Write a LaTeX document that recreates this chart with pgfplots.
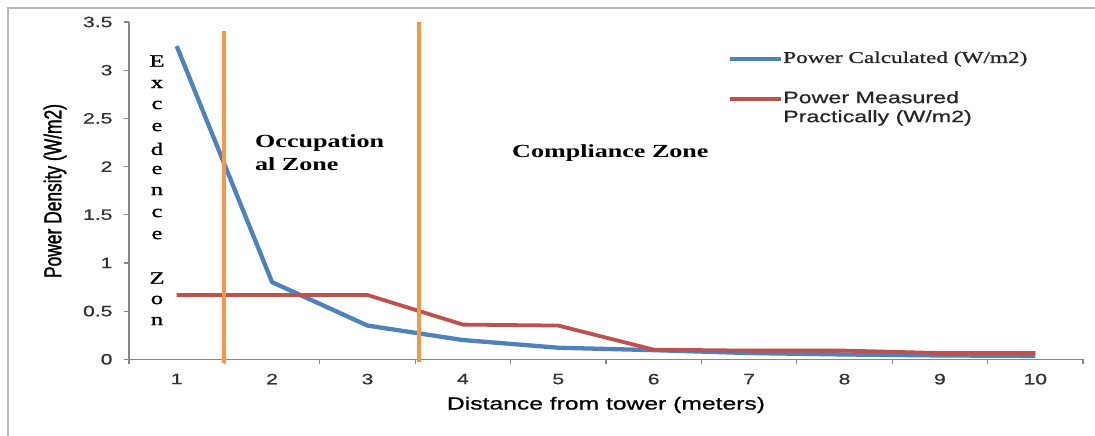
\documentclass[border=0pt]{standalone}
\usepackage{pgfplots}
\pgfplotsset{compat=1.18}
\usepackage{fontspec}
\setmainfont{Liberation Sans}
\newfontfamily\wsans[FakeStretch=1.41]{Liberation Sans}
\newfontfamily\wsansb[FakeStretch=1.41, FakeBold=0.8]{Liberation Sans}
\newfontfamily\wserif[FakeStretch=1.41]{Liberation Serif}
\newfontfamily\wserifb[FakeStretch=1.41, FakeBold=1.2]{Liberation Serif}
\newfontfamily\nsans[FakeStretch=0.71, FakeBold=1.2]{Liberation Sans}
\definecolor{calcblue}{HTML}{4F81BD}
\definecolor{measred}{HTML}{C0504D}
\definecolor{zoneorange}{HTML}{F79646}
\definecolor{axisgray}{HTML}{868686}

\begin{document}
\begin{tikzpicture}
\useasboundingbox (0,0) rectangle (1095pt,436pt);
% outer chart frame (cropped on right and bottom)
\draw[gray!55, line width=1.5pt] (8pt,0) -- (8pt,428pt) -- (1095pt,428pt);

\begin{axis}[
    at={(129pt,76.7pt)}, anchor=south west,
    scale only axis, width=954pt, height=337.3pt,
    xmin=0.5, xmax=10.5, ymin=0, ymax=3.5,
    axis x line=bottom, axis y line=left,
    axis line style={axisgray, line width=1.3pt, -},
    xtick={1,...,10},
    minor xtick={0.5,1.5,...,10.5},
    ytick={0,0.5,...,3.5},
    tick align=outside,
    major tick length=5pt, minor tick length=5pt,
    major x tick style={draw=none},
    tick style={axisgray, line width=1.2pt},
    minor tick style={axisgray, line width=1.2pt},
    /pgf/number format/assume math mode=true,
    tick label style={font=\wsansb\fontsize{15}{15}\selectfont, text=black!80},
    xticklabel style={yshift=-6pt},
    yticklabel style={xshift=-8pt},
    xlabel={Distance from tower (meters)},
    xlabel style={at={(axis description cs:0.5,-0.1355)}, anchor=center,
        font=\wsansb\fontsize{17.5}{17.5}\selectfont},
    ylabel={Power Density (W/m2)},
    ylabel style={at={(axis description cs:-0.0776,0.499)}, anchor=center,
        font=\nsans\fontsize{24.5}{24.5}\selectfont},
    clip=false,
]
\addplot[calcblue, line width=4.3pt, line join=round] coordinates {
    (1,3.25) (2,0.80) (3,0.35) (4,0.20) (5,0.12)
    (6,0.095) (7,0.065) (8,0.05) (9,0.04) (10,0.035)
};
\addplot[measred, line width=3.8pt, line join=round] coordinates {
    (1,0.667) (2,0.667) (3,0.667) (4,0.36) (5,0.35)
    (6,0.10) (7,0.09) (8,0.09) (9,0.065) (10,0.065)
};
% zone boundaries
\addplot[zoneorange, line width=4pt] coordinates {(1.5,-0.035) (1.5,3.41)};
\addplot[zoneorange, line width=4pt] coordinates {(3.54,-0.025) (3.54,3.5)};
\end{axis}

% vertical zone label
\foreach \l/\y in {E/61, x/84, c/105, e/127, d/149, e/170, n/191, c/213, e/235, Z/278, o/300, n/321}
    \node[font=\wserifb\fontsize{17.5}{17.5}\selectfont, inner sep=0] at (157pt,{(436-\y)*1pt}) {\l};

\node[font=\wserif\bfseries\fontsize{18.5}{23}\selectfont, align=left, anchor=north west, inner sep=0]
    at (255pt,{(436-134)*1pt}) {Occupation\\al Zone};
\node[font=\wserif\bfseries\fontsize{18.5}{23}\selectfont, anchor=west, inner sep=0]
    at (512pt,{(436-153)*1pt}) {Compliance Zone};

% legend
\draw[calcblue, line width=4.3pt] (730pt,{(436-59)*1pt}) -- (781pt,{(436-59)*1pt});
\node[font=\wserifb\fontsize{16.5}{16.5}\selectfont, anchor=west, inner sep=0, text=black!85]
    at (783pt,{(436-59)*1pt}) {Power Calculated (W/m2)};
\draw[measred, line width=3.8pt] (730pt,{(436-99)*1pt}) -- (781pt,{(436-99)*1pt});
\node[font=\wsansb\fontsize{16.5}{19}\selectfont, align=left, anchor=north west, inner sep=0, text=black!85]
    at (783pt,{(436-91)*1pt}) {Power Measured\\Practically (W/m2)};
\end{tikzpicture}
\end{document}
